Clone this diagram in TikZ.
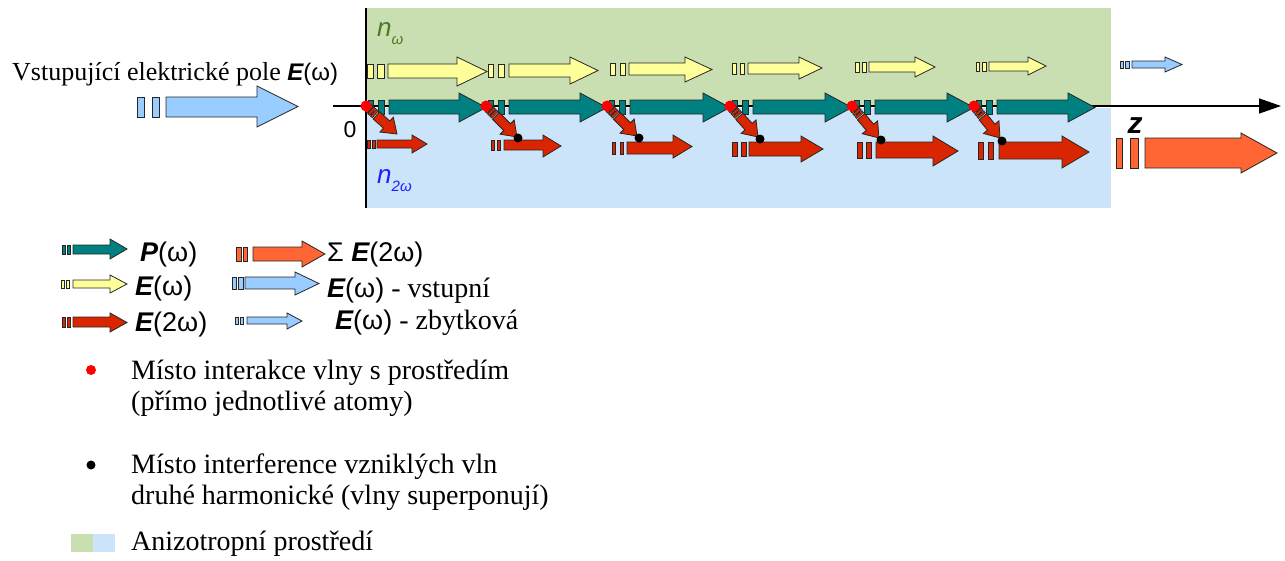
\documentclass[tikz,border=0pt]{standalone}
\usepackage{fontspec}
\setmainfont{Liberation Serif}
\newfontfamily\arialf{Liberation Sans}
\usetikzlibrary{arrows.meta}

\definecolor{mediumw}{RGB}{201,223,177}
\definecolor{mediumtw}{RGB}{204,228,250}
\definecolor{polteal}{RGB}{0,128,128}
\definecolor{fieldyellow}{RGB}{255,255,153}
\definecolor{shgred}{RGB}{218,38,0}
\definecolor{sumorange}{RGB}{255,102,51}
\definecolor{inblue}{RGB}{153,204,255}
\definecolor{nwgreen}{RGB}{78,122,30}
\definecolor{ntwblue}{RGB}{30,30,255}

\tikzset{
  outl/.style={draw=black!85, line width=0.8pt, line join=miter},
  tealf/.style={outl, fill=polteal},
  yellowf/.style={outl, fill=fieldyellow},
  redf/.style={outl, fill=shgred},
  orangef/.style={outl, fill=sumorange},
  bluef/.style={outl, fill=inblue},
  txt/.style={anchor=base west, inner sep=0pt},
}

% block arrow: style, tail x, head base x, tip x, body top, body bottom, head top, head bottom
\newcommand{\waveArrow}[8]{%
  \filldraw[#1] (#2,#5) -- (#3,#5) -- (#3,#7) -- (#4,{(#7+#8)/2}) -- (#3,#8) -- (#3,#6) -- (#2,#6) -- cycle;}
% two short bars before an arrow: style, a0, a1, b0, b1, top, bottom
\newcommand{\waveDashes}[7]{%
  \filldraw[#1] (#2,#6) rectangle (#3,#7);
  \filldraw[#1] (#4,#6) rectangle (#5,#7);}
% slanted second-harmonic arrow from an interaction point on the axis
\newcommand{\emitArrow}[3]{%
  \pgfmathsetmacro\emitAng{atan2(106-#3,#2-#1)}%
  \pgfmathsetmacro\emitLen{veclen(#2-#1,#3-106)}%
  \begin{scope}[shift={(#1,106)}, rotate=\emitAng]
    \foreach \st in {3,6.5,10}{\filldraw[redf, line width=0.6pt] (\st,-4.5) rectangle ({\st+2.5},4.5);}
    \filldraw[redf] (14,-4.8) -- ({\emitLen-14},-4.8) -- ({\emitLen-14},-10) -- (\emitLen,0)
      -- ({\emitLen-14},10) -- ({\emitLen-14},4.8) -- (14,4.8) -- cycle;
  \end{scope}}

\newcommand{\serifsz}{\fontsize{28}{32}\selectfont}
\newcommand{\sansE}[1]{{\arialf\fontsize{#1}{#1}\selectfont\bfseries\itshape E}}
\newcommand{\sansP}[1]{{\arialf\fontsize{#1}{#1}\selectfont\bfseries\itshape P}}
\newcommand{\sanst}[2]{{\arialf\fontsize{#1}{#1}\selectfont #2}}

\begin{document}
\begin{tikzpicture}[x=1pt, y=-1pt]
\useasboundingbox (0,0) rectangle (1285,560);

% anisotropic medium
\fill[mediumw] (366,8) rectangle (1111,106.5);
\fill[mediumtw] (366,108) rectangle (1111,208);
\coordinate (walltop) at (366,8);
\coordinate (wallbot) at (366,208);
\draw[line width=1.4pt] (walltop) -- (wallbot);

% propagation axis
\coordinate (axisstart) at (333,106);
\coordinate (axisend) at (1281,106);
\draw[line width=1.4pt, -{Triangle[length=22pt,width=15pt]}] (axisstart) -- (axisend);

% incoming field
\waveDashes{bluef}{137}{144}{152}{159}{97}{117}
\waveArrow{bluef}{166}{257}{298}{97}{117}{86}{127}

% polarisation along the axis
\foreach \xa/\xb in {366/486, 486/607, 607/730, 730/852, 852/974, 974/1095}{
  \waveDashes{tealf}{\xa+2}{\xa+7}{\xa+12}{\xa+18}{100}{114}
  \waveArrow{tealf}{\xa+23}{\xb-27}{\xb}{100}{114}{93}{122}
}

% fundamental field, weakening
\waveDashes{yellowf}{367}{373}{377}{384}{64}{78}
\waveArrow{yellowf}{388}{457}{487}{64}{78}{57}{86}
\waveDashes{yellowf}{488}{493}{498}{504}{64}{77}
\waveArrow{yellowf}{509}{570}{598}{64}{77}{57}{84}
\waveDashes{yellowf}{610}{615}{620}{625}{63}{75}
\waveArrow{yellowf}{629}{685}{712}{63}{75}{57}{82}
\waveDashes{yellowf}{732}{736}{740}{744}{63}{74}
\waveArrow{yellowf}{748}{799}{822}{63}{74}{57}{79}
\waveDashes{yellowf}{855}{859}{862}{866}{62}{72}
\waveArrow{yellowf}{869}{915}{935}{62}{72}{57}{77}
\waveDashes{yellowf}{976}{979}{982}{986}{62}{71}
\waveArrow{yellowf}{989}{1028}{1046}{62}{71}{57}{75}
% residual fundamental
\waveDashes{bluef}{1120}{1123}{1125}{1129}{61}{68}
\waveArrow{bluef}{1132}{1165}{1182}{61}{68}{57}{72}

% second harmonic, growing
\waveDashes{redf}{367}{370}{372}{375}{140}{148}
\waveArrow{redf}{377}{412}{427}{140}{148}{135}{153}
\waveDashes{redf}{491}{494}{497}{500}{140}{150}
\waveArrow{redf}{504}{543}{561}{140}{150}{135}{157}
\waveDashes{redf}{612}{615}{620}{623}{142}{154}
\waveArrow{redf}{627}{673}{692}{142}{154}{135}{158}
\waveDashes{redf}{732}{737}{741}{746}{142}{156}
\waveArrow{redf}{749}{801}{823}{142}{156}{136}{162}
\waveDashes{redf}{857}{862}{866}{871}{142}{158}
\waveArrow{redf}{876}{933}{958}{142}{158}{136}{166}
\waveDashes{redf}{978}{983}{988}{993}{142}{159}
\waveArrow{redf}{999}{1062}{1089}{142}{159}{136}{168}
% total second harmonic
\waveDashes{orangef}{1116}{1122}{1130}{1138}{138}{168}
\waveArrow{orangef}{1145}{1241}{1277}{138}{168}{133}{173}

% emission from each interaction point
\emitArrow{366}{397}{134}
\emitArrow{486}{517}{137}
\emitArrow{607}{637}{136}
\emitArrow{730}{758}{137}
\emitArrow{852}{879}{138}
\emitArrow{974}{1000}{138}

% interference points
\foreach \px/\py [count=\i] in {518/138, 639/138, 760/139, 881/140, 1002/141}
  \fill (\px,\py) circle (4.5) coordinate (sup\i);
% interaction points
\foreach \px [count=\i] in {366, 486, 607, 730, 852, 974}
  \fill[red] (\px,106) circle (5.5) coordinate (int\i);

% labels
\node[txt] (inlabel) at (12,80) {\fontsize{26}{31}\selectfont Vstupující elektrické pole \sansE{24}\sanst{24}{(ω)}};
\node (zero) at (350,130) {\sanst{23}{0}};
\node (zlab) at (1135,126) {\arialf\fontsize{30}{30}\selectfont\bfseries\itshape z};
\node[txt, text=nwgreen] (nw) at (377,36)
  {\arialf\itshape\fontsize{26}{26}\selectfont n\raisebox{-8pt}{\fontsize{15}{15}\selectfont ω}};
\node[txt, text=ntwblue] (n2w) at (377,183)
  {\arialf\itshape\fontsize{26}{26}\selectfont n\raisebox{-8pt}{\fontsize{15}{15}\selectfont 2ω}};

% legend: arrows
\waveDashes{tealf}{62}{65}{67}{70}{245}{254}
\waveArrow{tealf}{73}{110}{127}{245}{254}{239}{259}
\waveDashes{yellowf}{61}{64}{66}{69}{280}{288}
\waveArrow{yellowf}{73}{110}{127}{280}{288}{275}{293}
\waveDashes{redf}{62}{65}{67}{70}{317}{327}
\waveArrow{redf}{73}{110}{127}{317}{327}{313}{332}
\waveDashes{orangef}{236}{241}{243}{247}{247}{261}
\waveArrow{orangef}{253}{302}{325}{247}{261}{241}{267}
\waveDashes{bluef}{232}{236}{238}{243}{277}{289}
\waveArrow{bluef}{245}{295}{319}{277}{289}{272}{295}
\waveDashes{bluef}{235}{238}{240}{243}{317}{324}
\waveArrow{bluef}{247}{287}{302}{317}{324}{313}{329}

\node[txt] (lgP) at (140,261) {\sansP{27}\sanst{27}{(ω)}};
\node[txt] (lgEw) at (135,295) {\sansE{27}\sanst{27}{(ω)}};
\node[txt] (lgE2w) at (135,331) {\sansE{27}\sanst{27}{(2ω)}};
\node[txt] (lgSum) at (327,261) {\sanst{27}{Σ }\sansE{27}\sanst{27}{(2ω)}};
\node[txt] (lgIn) at (327,297) {\sansE{27}\sanst{27}{(ω)}\serifsz{} - vstupní};
\node[txt] (lgRes) at (335,329) {\sansE{27}\sanst{27}{(ω)}\serifsz{} - zbytková};

% legend: points and medium
\fill[red] (91,370) circle (5) coordinate (lgint);
\fill (91,465) circle (4.5) coordinate (lgsup);
\fill[mediumw] (71,534) rectangle (93,552);
\fill[mediumtw] (93,534) rectangle (115,552);
\node[txt] (lgInt1) at (131,379) {\serifsz Místo interakce vlny s prostředím};
\node[txt] (lgInt2) at (131,410) {\serifsz (přímo jednotlivé atomy)};
\node[txt] (lgSup1) at (131,473) {\serifsz Místo interference vzniklých vln};
\node[txt] (lgSup2) at (131,504) {\serifsz druhé harmonické (vlny superponují)};
\node[txt] (lgMed) at (131,550) {\serifsz Anizotropní prostředí};
\end{tikzpicture}
\end{document}
